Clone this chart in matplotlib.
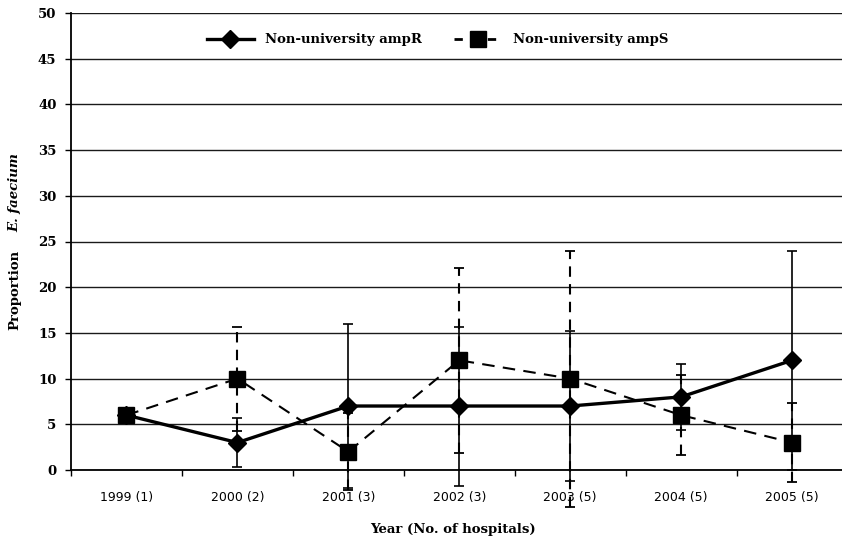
import matplotlib
matplotlib.use("Agg")
import matplotlib.pyplot as plt
import numpy as np
from matplotlib.lines import Line2D

categories = ["1999 (1)", "2000 (2)", "2001 (3)", "2002 (3)", "2003 (5)", "2004 (5)", "2005 (5)"]
ampR = [6, 3, 7, 7, 7, 8, 12]
ampR_err = [float("nan"), 2.7, 9.0, 8.7, 8.2, 3.6, 12.0]
ampS = [6, 10, 2, 12, 10, 6, 3]
ampS_err = [float("nan"), 5.7, 4.2, 10.1, 14.0, 4.4, 4.3]
yticks = [0, 5, 10, 15, 20, 25, 30, 35, 40, 45, 50]

W, H = 842, 543
fig = plt.figure(figsize=(W / 100, H / 100), dpi=100)
ax = fig.add_axes([71 / W, 73 / H, (W - 71) / W, 457 / H])

serif = "DejaVu Serif"
x = np.arange(len(categories))

# gridlines
for v in yticks:
    ax.axhline(v, color="#1a1a1a", lw=1.0, zorder=1)

# ampR
eR = ax.errorbar(x, ampR, yerr=ampR_err, fmt="none", ecolor="black",
                 elinewidth=1.2, capsize=3.5, capthick=1.2, zorder=3)
ax.plot(x, ampR, color="black", lw=2.4, marker="D", markersize=9.5,
        zorder=5, clip_on=False)
# ampS
eS = ax.errorbar(x, ampS, yerr=ampS_err, fmt="none", ecolor="black",
                 elinewidth=1.5, capsize=3.5, capthick=1.3, zorder=3)
ax.plot(x, ampS, color="black", lw=1.5, ls=(0, (6, 4)), marker="s",
        markersize=11, zorder=4, clip_on=False)

for e in (eR, eS):
    for c in e.lines[1]:
        c.set_clip_on(False)
    for c in e.lines[2]:
        c.set_clip_on(False)
eS.lines[2][0].set_linestyle((0, (5, 3.5)))

ax.set_xlim(-0.5, 6.45)
ax.set_ylim(0, 50)
ax.set_yticks(yticks)
ax.set_yticklabels([str(v) for v in yticks], fontfamily=serif,
                   fontweight="bold", fontsize=9.5)
ax.set_xticks(x)
ax.set_xticklabels(categories, fontfamily="DejaVu Sans", fontsize=9)
ax.set_xticks(np.arange(-0.5, 6.0, 1.0), minor=True)
ax.tick_params(axis="x", which="major", length=0, pad=15)
ax.tick_params(axis="x", which="minor", length=4.5, width=1.0, direction="out")
ax.tick_params(axis="y", length=4.5, width=1.0, direction="out", pad=6)

for s in ["top", "right"]:
    ax.spines[s].set_visible(False)
ax.spines["left"].set_linewidth(1.3)
ax.spines["bottom"].set_linewidth(1.3)

handles = [
    Line2D([], [], color="black", lw=2.4, marker="D", markersize=9.5),
    Line2D([], [], color="black", lw=2.0, ls=(0, (3, 3)), marker="s", markersize=11),
]
leg = ax.legend(handles, ["Non-university ampR", "Non-university ampS"],
                loc="center", bbox_to_anchor=(0.475, 0.941), ncol=2,
                frameon=False, handlelength=3.6, columnspacing=2.5,
                prop={"family": serif, "weight": "bold", "size": 9.5})

fig.text(453 / W, 1 - 530 / H, "Year (No. of hospitals)", ha="center", va="center",
         fontfamily=serif, fontweight="bold", fontsize=9.5)
fig.text(15 / W, 1 - 290 / H, "Proportion", ha="center", va="center", rotation=90,
         fontfamily=serif, fontweight="bold", fontsize=9.5)
fig.text(15 / W, 1 - 193 / H, "E. faecium", ha="center", va="center", rotation=90,
         fontfamily=serif, fontweight="bold", fontstyle="italic", fontsize=9.5)

fig.savefig("out.png", dpi=100)
